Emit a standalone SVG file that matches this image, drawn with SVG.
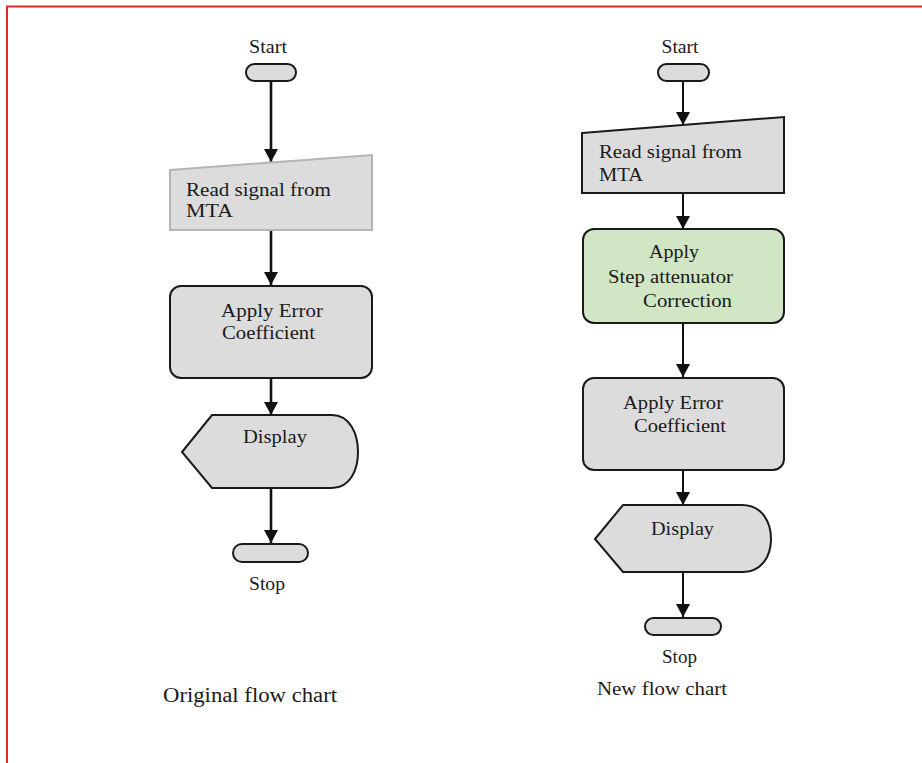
<svg xmlns="http://www.w3.org/2000/svg" width="922" height="763" viewBox="0 0 922 763">
  <style>
    .t { font-family: "Liberation Serif", "Times New Roman", serif; font-size: 19px; fill: #1a1a1a; }
    .cap { font-size: 20px; }
    .box { fill: #dcdcdc; stroke: #1a1a1a; stroke-width: 2; }
    .green { fill: #d0e6c5; }
    .soft { stroke: #b4b4b4; }
    .lineL { stroke: #111; stroke-width: 2.6; fill: none; marker-end: url(#ah); }
    .lineR { stroke: #111; stroke-width: 2; fill: none; marker-end: url(#ah); }
  </style>
  <defs>
    <marker id="ah" markerUnits="userSpaceOnUse" markerWidth="14" markerHeight="14" viewBox="0 0 14 14" refX="13" refY="7" orient="auto">
      <path d="M0,0 L13,7 L0,14 Z" fill="#111"/>
    </marker>
  </defs>

  <rect x="0" y="0" width="922" height="763" fill="#fff"/>
  <!-- frame -->
  <rect x="7" y="6.5" width="940" height="800" fill="none" stroke="#e8282c" stroke-width="2"/>

  <!-- connectors -->
  <g id="connectors">
    <line class="lineL" x1="271" y1="82" x2="271" y2="162"/>
    <line class="lineL" x1="271" y1="230" x2="271" y2="285"/>
    <line class="lineL" x1="271" y1="378" x2="271" y2="415"/>
    <line class="lineL" x1="271" y1="488" x2="271" y2="543"/>

    <line class="lineR" x1="683" y1="82" x2="683" y2="125"/>
    <line class="lineR" x1="683" y1="193" x2="683" y2="229"/>
    <line class="lineR" x1="683" y1="323" x2="683" y2="377"/>
    <line class="lineR" x1="683" y1="470" x2="683" y2="505"/>
    <line class="lineR" x1="683" y1="572" x2="683" y2="617"/>
  </g>

  <!-- original flow chart -->
  <g id="l-start">
    <text class="t" x="268" y="53" text-anchor="middle" textLength="38" lengthAdjust="spacingAndGlyphs">Start</text>
    <rect class="box" x="246" y="64" width="50" height="17" rx="8.5"/>
  </g>
  <g id="l-read">
    <path class="box soft" d="M170,170 L372,155 L372,230 L170,230 Z"/>
    <text class="t" x="186" y="196" textLength="145" lengthAdjust="spacingAndGlyphs">Read signal from</text>
    <text class="t" x="186" y="217" textLength="47" lengthAdjust="spacingAndGlyphs">MTA</text>
  </g>
  <g id="l-error">
    <rect class="box" x="170" y="286" width="202" height="92" rx="11"/>
    <text class="t" x="221" y="317" textLength="102" lengthAdjust="spacingAndGlyphs">Apply Error</text>
    <text class="t" x="222" y="339" textLength="93" lengthAdjust="spacingAndGlyphs">Coefficient</text>
  </g>
  <g id="l-display">
    <path class="box" d="M182,452 L212,415 L332,415 C350,415 358,434 358,452 C358,470 350,488 332,488 L212,488 Z"/>
    <text class="t" x="243" y="443" textLength="64" lengthAdjust="spacingAndGlyphs">Display</text>
  </g>
  <g id="l-stop">
    <rect class="box" x="233" y="544" width="75" height="18" rx="9"/>
    <text class="t" x="249" y="590" textLength="36" lengthAdjust="spacingAndGlyphs">Stop</text>
  </g>
  <text class="t cap" x="163" y="702" textLength="174" lengthAdjust="spacingAndGlyphs">Original flow chart</text>

  <!-- new flow chart -->
  <g id="r-start">
    <text class="t" x="680" y="53" text-anchor="middle" textLength="37" lengthAdjust="spacingAndGlyphs">Start</text>
    <rect class="box" x="658" y="64" width="51" height="17" rx="8.5"/>
  </g>
  <g id="r-read">
    <path class="box" d="M582,133 L784,117 L784,193 L582,193 Z"/>
    <text class="t" x="599" y="158" textLength="143" lengthAdjust="spacingAndGlyphs">Read signal from</text>
    <text class="t" x="599" y="181" textLength="44" lengthAdjust="spacingAndGlyphs">MTA</text>
  </g>
  <g id="r-step">
    <rect class="box green" x="583" y="229" width="201" height="94" rx="11"/>
    <text class="t" x="649" y="258" textLength="50" lengthAdjust="spacingAndGlyphs">Apply</text>
    <text class="t" x="608" y="283" textLength="125" lengthAdjust="spacingAndGlyphs">Step attenuator</text>
    <text class="t" x="643" y="307" textLength="89" lengthAdjust="spacingAndGlyphs">Correction</text>
  </g>
  <g id="r-error">
    <rect class="box" x="583" y="378" width="201" height="92" rx="11"/>
    <text class="t" x="623" y="409" textLength="100" lengthAdjust="spacingAndGlyphs">Apply Error</text>
    <text class="t" x="634" y="432" textLength="92" lengthAdjust="spacingAndGlyphs">Coefficient</text>
  </g>
  <g id="r-display">
    <path class="box" d="M595,539 L623,505 L742,505 C762,505 771,522 771,539 C771,556 762,572 742,572 L623,572 Z"/>
    <text class="t" x="651" y="535" textLength="63" lengthAdjust="spacingAndGlyphs">Display</text>
  </g>
  <g id="r-stop">
    <rect class="box" x="645" y="618" width="76" height="17" rx="8.5"/>
    <text class="t" x="662" y="663" textLength="35" lengthAdjust="spacingAndGlyphs">Stop</text>
  </g>
  <text class="t" x="597" y="695" textLength="130" lengthAdjust="spacingAndGlyphs">New flow chart</text>
</svg>
